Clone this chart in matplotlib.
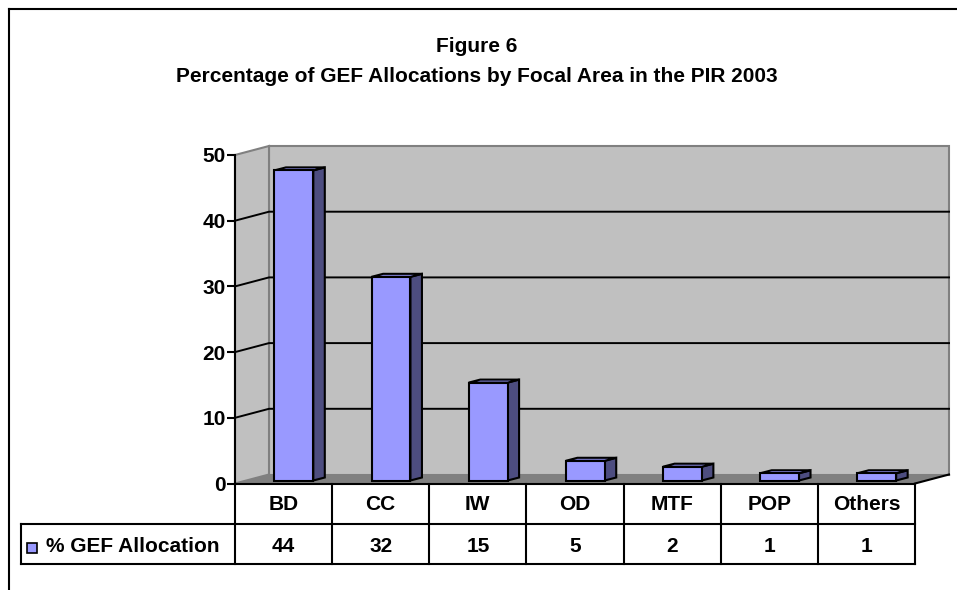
import matplotlib
matplotlib.use('Agg')
import matplotlib.pyplot as plt
from matplotlib.patches import Polygon, Rectangle
from matplotlib.lines import Line2D
import numpy as np

plt.rcParams['font.family'] = ['Liberation Sans', 'DejaVu Sans']
plt.rcParams['font.weight'] = 'bold'

# Dados do gráfico
categories = ['BD', 'CC', 'IW', 'OD', 'MTF', 'POP', 'Others']
bar_values = [47.2, 31.0, 14.9, 3.0, 2.1, 1.1, 1.1]   # altura desenhada das colunas
table_values = [44, 32, 15, 5, 2, 1, 1]               # valores mostrados na tabela
series_name = '% GEF Allocation'
y_ticks = [0, 10, 20, 30, 40, 50]

W, H = 957, 590
fs = 15
fig = plt.figure(figsize=(W / 100, H / 100), dpi=100)

# Eixo no plano da frente (pixels convertidos em frações)
left_px, right_px, zero_px, top_px = 235, 915, 483.5, 155
ax = fig.add_axes([left_px / W, (H - zero_px) / H,
                   (right_px - left_px) / W, (zero_px - top_px) / H])
n = len(categories)
ax.set_xlim(-0.5, n - 0.5)
ax.set_ylim(0, 50)

px_x = (right_px - left_px) / n      # pixels por unidade x
px_y = (zero_px - top_px) / 50       # pixels por unidade y

# Profundidade do efeito 3D
ddx, ddy = 34 / px_x, 9 / px_y       # paredes
box, boy = 10.3 / px_x, 3 / px_y     # deslocamento das colunas
bdx, bdy = 11.5 / px_x, 3 / px_y     # profundidade das colunas
bw = 0.40

wall = '#c0c0c0'
edge_gray = '#808080'
x0, x1 = -0.5, n - 0.5

# Parede do fundo
ax.add_patch(Rectangle((x0 + ddx, ddy), x1 - x0, 50, facecolor=wall,
                       edgecolor=edge_gray, lw=1.5, clip_on=False, zorder=1))
# Parede da esquerda
ax.add_patch(Polygon([(x0, 0), (x0, 50), (x0 + ddx, 50 + ddy), (x0 + ddx, ddy)],
                     closed=True, facecolor=wall, edgecolor=edge_gray, lw=1.5,
                     clip_on=False, zorder=1))
# Piso
ax.add_patch(Polygon([(x0, 0), (x1, 0), (x1 + ddx, ddy), (x0 + ddx, ddy)],
                     closed=True, facecolor=edge_gray, edgecolor='none',
                     clip_on=False, zorder=2))
ax.plot([x1, x1 + ddx], [0, ddy], color='black', lw=1.5, clip_on=False, zorder=2)

# Linhas de grade
for v in y_ticks[1:-1]:
    ax.plot([x0, x0 + ddx, x1 + ddx], [v, v + ddy, v + ddy], color='black',
            lw=1.4, clip_on=False, zorder=2)

# Colunas
xs = np.arange(n) + box
front = '#9999ff'
side = '#4d4d80'
for xc, v in zip(xs, bar_values):
    xl, xr = xc - bw / 2, xc + bw / 2
    top = boy + v
    ax.add_patch(Polygon([(xr, boy), (xr + bdx, boy + bdy), (xr + bdx, top + bdy), (xr, top)],
                         closed=True, facecolor=side, edgecolor='black', lw=1.5,
                         clip_on=False, zorder=4))
    ax.add_patch(Polygon([(xl, top), (xl + bdx, top + bdy), (xr + bdx, top + bdy), (xr, top)],
                         closed=True, facecolor=front, edgecolor='black', lw=1.5,
                         clip_on=False, zorder=4))
ax.bar(xs, bar_values, width=bw, bottom=boy, color=front, edgecolor='black',
       lw=1.5, zorder=5, clip_on=False)

# Eixos
ax.set_facecolor('none')
for s in ['top', 'right']:
    ax.spines[s].set_visible(False)
ax.spines['left'].set_linewidth(1.5)
ax.spines['bottom'].set_linewidth(1.5)
ax.spines['left'].set_zorder(6)
ax.spines['bottom'].set_zorder(6)
ax.set_xticks([])
ax.set_yticks(y_ticks)
ax.set_yticklabels([str(t) for t in y_ticks], fontsize=fs, fontweight='bold')
ax.tick_params(axis='y', direction='out', length=5.5, width=1.5, pad=1)

# Tabela de dados
tr = ax.get_xaxis_transform()
hdr_y = (zero_px - 524.3) / (zero_px - top_px)
bot_y = (zero_px - 564) / (zero_px - top_px)
lab_x = x0 - (left_px - 21) / px_x
lw_t = 1.5
for k in range(n + 1):
    ax.add_line(Line2D([x0 + k, x0 + k], [0, bot_y], transform=tr, color='black',
                       lw=lw_t, clip_on=False))
for yy in [hdr_y, bot_y]:
    ax.add_line(Line2D([lab_x, x1], [yy, yy], transform=tr, color='black',
                       lw=lw_t, clip_on=False))
ax.add_line(Line2D([lab_x, lab_x], [hdr_y, bot_y], transform=tr, color='black',
                   lw=lw_t, clip_on=False))

cat_base = (zero_px - 509.5) / (zero_px - top_px)
val_base = (zero_px - 552.5) / (zero_px - top_px)
for i, (c, v) in enumerate(zip(categories, table_values)):
    ax.text(i, cat_base, c, transform=tr, ha='center', va='baseline',
            fontsize=fs, fontweight='bold')
    ax.text(i, val_base, str(v), transform=tr, ha='center', va='baseline',
            fontsize=fs, fontweight='bold')

# Legenda dentro da tabela
sq = 10
ax.add_patch(Rectangle((x0 - (left_px - 27) / px_x, (zero_px - 552.5) / (zero_px - top_px)),
                       sq / px_x, sq / (zero_px - top_px), transform=tr,
                       facecolor=front, edgecolor='black', lw=1.2, clip_on=False))
ax.text(x0 - (left_px - 46) / px_x, val_base, series_name, transform=tr,
        ha='left', va='baseline', fontsize=fs, fontweight='bold')

# Título
fig.text(476.7 / W, 1 - 52 / H, 'Figure 6', ha='center', va='baseline',
         fontsize=15, fontweight='bold')
fig.text(476.7 / W, 1 - 82 / H,
         'Percentage of GEF Allocations by Focal Area in the PIR 2003',
         ha='center', va='baseline', fontsize=15, fontweight='bold')

# Moldura
fig.add_artist(Line2D([8.5 / W, 8.5 / W], [0, 1 - 8.5 / H], transform=fig.transFigure,
                      color='black', lw=1.5))
fig.add_artist(Line2D([8.5 / W, 1], [1 - 8.5 / H, 1 - 8.5 / H], transform=fig.transFigure,
                      color='black', lw=1.5))

fig.savefig('out.png', dpi=100)
